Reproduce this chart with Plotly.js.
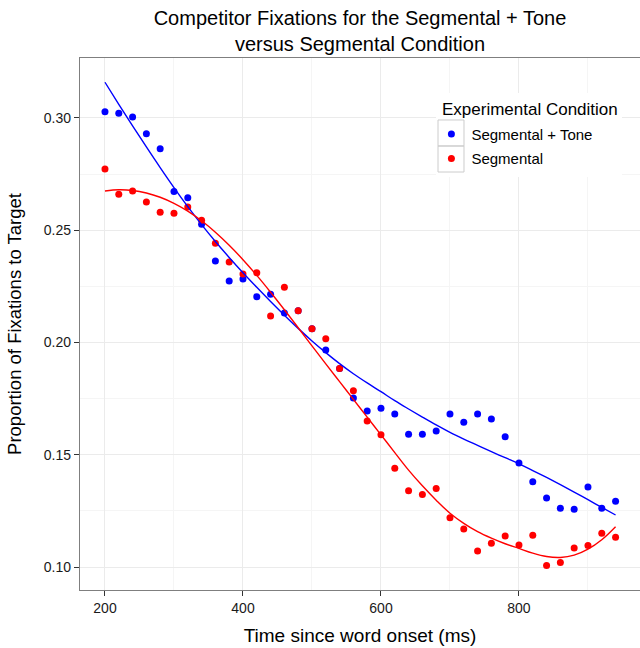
<!DOCTYPE html>
<html>
<head>
<meta charset="utf-8">
<script src="https://cdn.plot.ly/plotly-3.0.1.min.js"></script>
<style>html,body{margin:0;padding:0;background:#fff;}#chart{width:640px;height:648px;}</style>
</head>
<body>
<div id="chart"></div>
<script>
// Time since word onset (ms)
var timeMs = [200,220,240,260,280,300,320,340,360,380,400,420,440,460,480,500,520,540,560,580,
              600,620,640,660,680,700,720,740,760,780,800,820,840,860,880,900,920,940];

// Observed proportions
var toneObs = [0.3028,0.3021,0.3004,0.2930,0.2863,0.2672,0.2645,0.2527,0.2363,0.2274,
               0.2283,0.2204,0.2215,0.2132,0.2141,0.2061,0.1967,0.1884,0.1753,0.1695,
               0.1707,0.1682,0.1592,0.1592,0.1606,0.1682,0.1645,0.1682,0.1660,0.1580,
               0.1464,0.1380,0.1308,0.1262,0.1258,0.1357,0.1262,0.1293];
var segObs  = [0.2773,0.2660,0.2675,0.2626,0.2580,0.2576,0.2604,0.2545,0.2442,0.2359,
               0.2305,0.2311,0.2118,0.2246,0.2141,0.2061,0.2017,0.1884,0.1785,0.1651,
               0.1589,0.1440,0.1340,0.1323,0.1350,0.1220,0.1170,0.1072,0.1106,0.1139,
               0.1098,0.1142,0.1007,0.1020,0.1085,0.1096,0.1151,0.1133];

// Smoothed curves
var toneFit = [0.3159,0.3061,0.2965,0.2871,0.2779,0.2690,0.2605,0.2525,0.2450,0.2379,
               0.2311,0.2246,0.2183,0.2122,0.2063,0.2007,0.1955,0.1906,0.1861,0.1820,
               0.1781,0.1741,0.1704,0.1668,0.1633,0.1600,0.1570,0.1542,0.1514,0.1487,
               0.1460,0.1430,0.1399,0.1367,0.1334,0.1300,0.1266,0.1232];
var segFit  = [0.2675,0.2680,0.2677,0.2666,0.2647,0.2620,0.2585,0.2542,0.2491,0.2433,
               0.2369,0.2299,0.2224,0.2146,0.2066,0.1985,0.1905,0.1826,0.1747,0.1668,
               0.1589,0.1510,0.1432,0.1362,0.1298,0.1240,0.1195,0.1158,0.1129,0.1104,
               0.1083,0.1062,0.1047,0.1043,0.1053,0.1080,0.1122,0.1180];

var conditionNames = ['Segmental + Tone', 'Segmental'];
var legendTitle = 'Experimental Condition';
var xTicks = [200, 400, 600, 800];
var xMinor = [300, 500, 700, 900];
var yTicks = [0.10, 0.15, 0.20, 0.25, 0.30];
var yTickText = ['0.10', '0.15', '0.20', '0.25', '0.30'];
var yMinor = [0.125, 0.175, 0.225, 0.275];

var BLUE = '#0000ff', RED = '#ff0000';

var traces = [
  {x: timeMs, y: toneObs, type: 'scatter', mode: 'markers', name: conditionNames[0],
   legendgroup: 'a', marker: {color: BLUE, size: 7}},
  {x: timeMs, y: segObs, type: 'scatter', mode: 'markers', name: conditionNames[1],
   legendgroup: 'b', marker: {color: RED, size: 7}},
  {x: timeMs, y: toneFit, type: 'scatter', mode: 'lines', showlegend: false,
   line: {color: BLUE, width: 1.4, shape: 'spline', smoothing: 1}, hoverinfo: 'skip'},
  {x: timeMs, y: segFit, type: 'scatter', mode: 'lines', showlegend: false,
   line: {color: RED, width: 1.4, shape: 'spline', smoothing: 1}, hoverinfo: 'skip'}
];

var FONT = 'Liberation Sans, Arial, Helvetica, sans-serif';

// legend background and key boxes (paper coordinates)
var legendBg = {type: 'rect', xref: 'paper', yref: 'paper', x0: 0.6357, x1: 0.9679, y0: 0.7763, y1: 0.9342,
                line: {width: 0}, fillcolor: '#ffffff', layer: 'above'};
function keyBox(y0, y1) {
  return {type: 'rect', xref: 'paper', yref: 'paper', x0: 0.6393, x1: 0.6857, y0: y0, y1: y1,
          line: {color: '#cccccc', width: 1}, fillcolor: 'rgba(0,0,0,0)', layer: 'above'};
}

var layout = {
  width: 640, height: 648,
  margin: {l: 80, r: 0, t: 58, b: 58},
  paper_bgcolor: '#ffffff', plot_bgcolor: '#ffffff',
  font: {family: FONT, color: '#000000'},
  title: {
    text: 'Competitor Fixations for the Segmental + Tone<br>versus Segmental Condition',
    font: {family: FONT, size: 20, color: '#000000'},
    x: 0.5, xref: 'paper', xanchor: 'center',
    y: 0.962, yref: 'container', yanchor: 'top'
  },
  xaxis: {
    range: [163.8, 975.4],
    tickmode: 'array', tickvals: xTicks,
    ticks: 'outside', ticklen: 5, tickcolor: '#333333', tickwidth: 1,
    tickfont: {family: FONT, size: 14, color: '#1a1a1a'},
    showgrid: true, gridcolor: '#ebebeb', gridwidth: 1,
    minor: {tickmode: 'array', tickvals: xMinor, showgrid: true, gridcolor: '#f5f5f5', gridwidth: 1, ticks: ''},
    showline: true, linecolor: '#7f7f7f', linewidth: 1.2, mirror: true,
    zeroline: false,
    title: {text: 'Time since word onset (ms)', font: {family: FONT, size: 19, color: '#000000'}, standoff: 13}
  },
  yaxis: {
    range: [0.0898, 0.3267],
    tickmode: 'array', tickvals: yTicks, ticktext: yTickText,
    ticks: 'outside', ticklen: 5, tickcolor: '#333333', tickwidth: 1,
    tickfont: {family: FONT, size: 14, color: '#1a1a1a'},
    showgrid: true, gridcolor: '#ebebeb', gridwidth: 1,
    minor: {tickmode: 'array', tickvals: yMinor, showgrid: true, gridcolor: '#f5f5f5', gridwidth: 1, ticks: ''},
    showline: true, linecolor: '#7f7f7f', linewidth: 1.2,
    zeroline: false,
    title: {text: 'Proportion of Fixations to Target', font: {family: FONT, size: 18.5, color: '#000000'}, standoff: 17}
  },
  legend: {
    x: 0.6275, y: 0.8875, xanchor: 'left', yanchor: 'top',
    bgcolor: 'rgba(0,0,0,0)', borderwidth: 0,
    font: {family: FONT, size: 15, color: '#000000'},
    traceorder: 'grouped', tracegroupgap: 2
  },
  annotations: [{
    text: legendTitle, xref: 'paper', yref: 'paper', x: 0.6429, y: 0.9041,
    xanchor: 'left', yanchor: 'middle', showarrow: false,
    font: {family: FONT, size: 17, color: '#000000'}
  }],
  shapes: [legendBg, keyBox(0.8346, 0.8835), keyBox(0.7857, 0.8346)],
  showlegend: true
};

Plotly.newPlot('chart', traces, layout, {displayModeBar: false, staticPlot: true});
</script>
</body>
</html>
